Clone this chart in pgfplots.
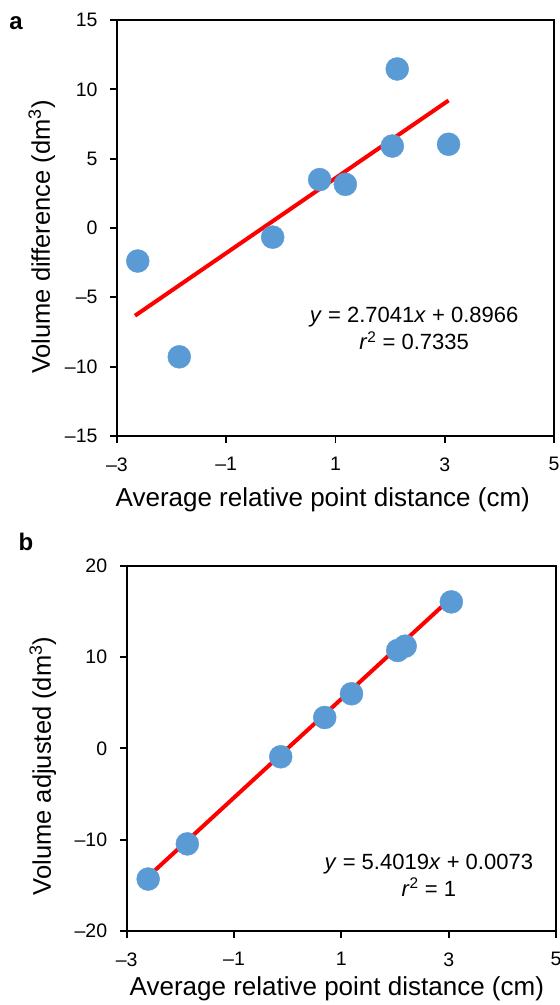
\documentclass[border=0pt]{standalone}
\usepackage{fontspec}
\setmainfont{Liberation Sans}
\usepackage{pgfplots}
\pgfplotsset{compat=1.18}
\definecolor{dotblue}{RGB}{91,155,213}
\begin{document}
\begin{tikzpicture}[x=1pt,y=1pt]
\useasboundingbox (0,0) rectangle (560,-1005);
\pgfplotsset{myax/.style={
  scale only axis, clip=false,
  axis line style={black, line width=1.8pt},
  tick style={black, line width=1.8pt},
  tick align=outside, major tick length=7pt,
  xtick pos=bottom, ytick pos=left,
  ticklabel style={font=\fontsize{19.5}{22}\selectfont},
  xticklabel style={yshift=-11pt},
  yticklabel style={xshift=-9pt},
  xlabel style={font=\fontsize{26}{30}\selectfont, anchor=center},
  ylabel style={font=\fontsize{25.5}{30}\selectfont, anchor=center},
  xmin=-3, xmax=5, xtick={-3,-1,1,3,5}, xticklabels={–3,–1,1,3,5},
  xlabel={Average relative point distance (cm)},
}}
\begin{axis}[myax, at={(117pt,-436pt)}, anchor=south west,
  width=437pt, height=416pt,
  ymin=-15, ymax=15, ytick={-15,-10,-5,0,5,10,15},
  yticklabels={–15,–10,–5,0,5,10,15},
  xlabel style={at={(axis description cs:0.471,0)}, yshift=-64pt},
  ylabel style={at={(axis description cs:-0.172,0.478)}},
  ylabel={Volume difference (dm\textsuperscript{3})}]
\addplot[only marks, mark=*, mark size=11.5pt, color=dotblue, mark options={draw=dotblue, fill=dotblue}]
 coordinates {(-2.62,-2.38) (-1.86,-9.29) (-0.15,-0.66) (0.71,3.49) (1.18,3.15) (2.04,5.91) (2.13,11.47) (3.07,6.04)};
\addplot[red, line width=4pt] coordinates {(-2.67,-6.323) (3.07,9.198)};
\node[align=center, font=\fontsize{22}{27}\selectfont] at (axis cs:2.44,-7.25)
 {\textit{y} = 2.7041\textit{x} + 0.8966\\\textit{r}\textsuperscript{2} = 0.7335};
\end{axis}
\begin{axis}[myax, at={(126.7pt,-931pt)}, anchor=south west,
  width=429.3pt, height=365.3pt,
  ymin=-20, ymax=20, ytick={-20,-10,0,10,20},
  yticklabels={–20,–10,0,10,20},
  xlabel style={at={(axis description cs:0.4895,0)}, yshift=-58pt},
  ylabel style={at={(axis description cs:-0.1957,0.452)}},
  ylabel={Volume adjusted (dm\textsuperscript{3})}]
\addplot[only marks, mark=*, mark size=11.5pt, color=dotblue, mark options={draw=dotblue, fill=dotblue}]
 coordinates {(-2.6,-14.31) (-1.87,-10.46) (-0.13,-0.92) (0.69,3.38) (1.19,5.98) (2.05,10.72) (2.19,11.19) (3.05,16.04)};
\addplot[red, line width=4pt] coordinates {(-2.6,-14.038) (3.03,16.375)};
\node[align=center, font=\fontsize{22}{27}\selectfont] at (axis cs:2.63,-13.86)
 {\textit{y} = 5.4019\textit{x} + 0.0073\\\textit{r}\textsuperscript{2} = 1};
\end{axis}
\node[font=\bfseries\fontsize{24}{28}\selectfont] at (16,-23) {a};
\node[font=\bfseries\fontsize{24}{28}\selectfont] at (26,-542) {b};
\end{tikzpicture}
\end{document}
